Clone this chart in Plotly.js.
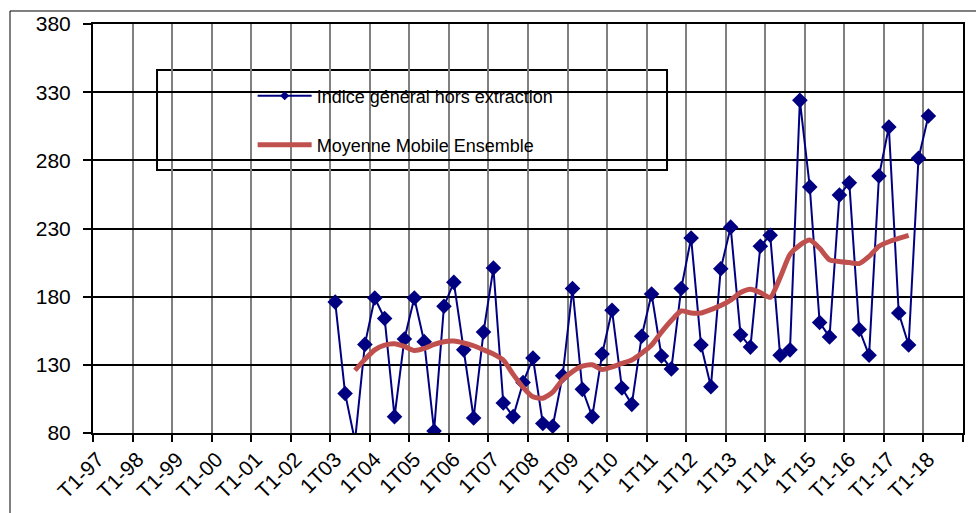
<!DOCTYPE html>
<html><head><meta charset="utf-8">
<script src="https://cdn.plot.ly/plotly-3.0.1.min.js"></script>
<style>html,body{margin:0;padding:0;background:#fff;} #chart{width:976px;height:513px;}</style>
</head><body><div id="chart"></div>
<script>
// Tick labels (one per year, first quarter)
const tickLabels = ['T1-97','T1-98','T1-99','T1-00','T1-01','T1-02','1T03','1T04','1T05','1T06','1T07','1T08','1T09','1T10','1T11','1T12','1T13','1T14','1T15','T1-16','T1-17','T1-18'];
const quartersPerYear = 4;
const totalQuarters = 88;
const firstQuarter = 24; // 1T03
// Quarterly index, from 1T03 to T1-18
const indiceGeneral = [176,109,74,145,179,164,92,149,179,147,81.5,173,190.5,141,91,154,201,102,92,117,135,87,85,122,186,112,92,138,170,113,101,151,182,136.5,127,186,223,144.5,114,200.5,231,152,143,217,225,137,141,324,260.5,161,150.5,254.5,263.5,156,137,268.5,304.5,168,144.5,281.5,312.5];
// Moving average, starting at the 3rd quarter of the series
const maOffset = 2;
const moyenneMobile = [126,134,141,144.5,145.5,143.5,140.5,142,145,147,147.4,146,144,141,138,133.5,123,113.5,106.5,105.5,110,119,125,129,130,126.5,128.5,131,133.5,138.5,144.5,154,162.5,169.5,168,168,170.5,173.5,177.5,183,185.4,183,179.5,194,211,217.8,221.5,215.5,207,205.8,205,204.3,209.5,217,220.3,222.7,225];
const yTicks = [80,130,180,230,280,330,380];
const seriesNames = ['Indice général hors extraction', 'Moyenne Mobile Ensemble'];

const font = 'Liberation Sans, Arial, sans-serif';
const xIdx = indiceGeneral.map((_, i) => firstQuarter + i);
const xMa = moyenneMobile.map((_, i) => firstQuarter + maOffset + i);
const boundaries = tickLabels.map((_, i) => i * quartersPerYear - 0.5).concat([totalQuarters - 0.5]);
const centers = tickLabels.map((_, i) => i * quartersPerYear);
const xr = [-0.5, totalQuarters - 0.5];

const traces = [
  {x: xIdx, y: indiceGeneral, mode: 'lines+markers', showlegend: false,
   line: {color: '#000080', width: 2}, marker: {symbol: 'diamond', size: 12, color: '#000080'}},
  {x: xMa, y: moyenneMobile, mode: 'lines', showlegend: false,
   line: {color: '#C0504D', width: 5, shape: 'spline', smoothing: 0.6}},
  {x: [null], y: [null], xaxis: 'x2', mode: 'lines+markers', name: seriesNames[0], legend: 'legend', showlegend: true,
   line: {color: '#000080', width: 2}, marker: {symbol: 'diamond', size: 7, color: '#000080'}},
  {x: [null], y: [null], xaxis: 'x2', mode: 'lines', name: seriesNames[1], legend: 'legend2', showlegend: true,
   line: {color: '#C0504D', width: 5}}
];

const legendCommon = {xanchor: 'left', yanchor: 'middle', bgcolor: 'rgba(0,0,0,0)', borderwidth: 0,
  font: {family: font, size: 18, color: '#000'}, itemwidth: 54};

const layout = {
  width: 976, height: 513,
  margin: {l: 93, r: 13, t: 24, b: 80},
  paper_bgcolor: '#fff', plot_bgcolor: '#fff',
  font: {family: font, color: '#000'},
  showlegend: true,
  xaxis: {range: xr, tickmode: 'array', tickvals: boundaries, ticktext: boundaries.map(() => ''),
    showgrid: true, gridcolor: '#808080', gridwidth: 2, ticks: 'outside', ticklen: 7, tickwidth: 2, tickcolor: '#000',
    showline: true, linecolor: '#000', linewidth: 2, mirror: true, zeroline: false, fixedrange: true},
  xaxis2: {overlaying: 'x', anchor: 'y', side: 'bottom', range: xr, tickmode: 'array', tickvals: centers, ticktext: tickLabels,
    tickangle: -45, showgrid: false, ticks: '', showline: false, zeroline: false, ticklabelstandoff: 9,
    tickfont: {family: font, size: 21, color: '#000'}},
  yaxis: {range: [80, 380], tickmode: 'array', tickvals: yTicks, ticktext: yTicks.map(String),
    showgrid: true, gridcolor: '#000', gridwidth: 2, ticks: 'outside', ticklen: 8, tickwidth: 2, tickcolor: '#000',
    showline: true, linecolor: '#000', linewidth: 2, mirror: true, zeroline: false, ticklabelstandoff: 8,
    tickfont: {family: font, size: 21, color: '#000'}},
  legend: Object.assign({x: 0.1835, y: 0.824}, legendCommon),
  legend2: Object.assign({x: 0.1835, y: 0.704}, legendCommon),
  shapes: [
    {type: 'rect', xref: 'paper', yref: 'paper', x0: 0.0736, x1: 0.6598, y0: 0.643, y1: 0.8875,
     fillcolor: '#fff', line: {color: '#000', width: 2}, layer: 'between'},
    {type: 'line', xref: 'paper', yref: 'paper', x0: -0.0954, x1: -0.0954, y0: 1.0318, y1: -0.25, line: {color: '#000', width: 1}},
    {type: 'line', xref: 'paper', yref: 'paper', x0: -0.0954, x1: 1.05, y0: 1.0318, y1: 1.0318, line: {color: '#000', width: 1}}
  ]
};

Plotly.newPlot('chart', traces, layout, {displayModeBar: false, staticPlot: true});
</script>
</body></html>
